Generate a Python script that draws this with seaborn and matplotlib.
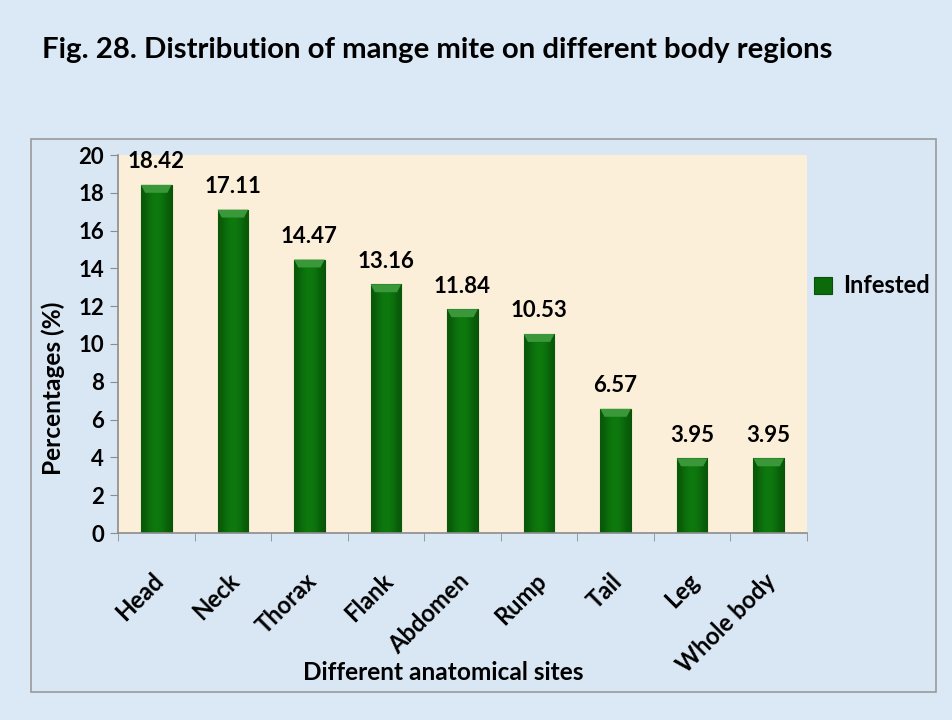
import numpy as np
import pandas as pd
import seaborn as sns
import matplotlib.pyplot as plt
from matplotlib.patches import Rectangle, Polygon
from matplotlib.ticker import MultipleLocator, FixedLocator
from matplotlib.transforms import ScaledTranslation

# values
sites = ["Head", "Neck", "Thorax", "Flank", "Abdomen", "Rump", "Tail", "Leg", "Whole body"]
infested = [18.42, 17.11, 14.47, 13.16, 11.84, 10.53, 6.57, 3.95, 3.95]
value_labels = ["18.42", "17.11", "14.47", "13.16", "11.84", "10.53", "6.57", "3.95", "3.95"]

df = pd.DataFrame({"site": sites, "pct": infested})

sns.set_style("white")
plt.rcParams["font.family"] = ["Lato", "DejaVu Sans"]
plt.rcParams["font.weight"] = "bold"
plt.rcParams["text.color"] = "black"
plt.rcParams["xtick.color"] = "black"
plt.rcParams["ytick.color"] = "black"

fig = plt.figure(figsize=(9.52, 7.2), dpi=100)
fig.patch.set_facecolor("#dbe8f5")

# outer chart frame
fig.patches.append(Rectangle((31 / 952, 1 - 692 / 720), 905 / 952, 553 / 720,
                             transform=fig.transFigure, facecolor="#d9e6f4",
                             edgecolor="#9a9a9a", linewidth=1.2, zorder=-1))

ax = fig.add_axes([118 / 952, 1 - 533 / 720, 689 / 952, 378 / 720])
ax.set_zorder(1)
ax.set_facecolor("#fcefd9")

sns.barplot(data=df, x="site", y="pct", color="#0b6b0b", width=0.4,
            edgecolor="#0a4f0a", linewidth=0.8, saturation=1,
            label="Infested", ax=ax)

# shaded look: horizontal gradient clipped to each bar, plus a lighter top bevel
grad = np.array([[0.0, 0.6, 1.0, 1.0, 0.6, 0.0]])
cmap = sns.blend_palette(["#085808", "#0e7a0e"], as_cmap=True)
for p in list(ax.patches):
    x0, w, h = p.get_x(), p.get_width(), p.get_height()
    im = ax.imshow(grad, extent=(x0, x0 + w, 0, h), cmap=cmap, aspect="auto",
                   interpolation="bicubic", zorder=p.get_zorder() + 0.05)
    im.set_clip_path(p)
    dh, dx = 0.42, 0.055
    ax.add_patch(Polygon([(x0, h), (x0 + w, h), (x0 + w - dx, h - dh), (x0 + dx, h - dh)],
                         closed=True, facecolor="#3a983a", edgecolor="none",
                         zorder=p.get_zorder() + 0.1))

ax.bar_label(ax.containers[0], labels=value_labels, padding=9,
             fontsize=16, fontweight="bold", color="black")

ax.set_ylim(0, 20)
ax.set_xlim(-0.5, len(sites) - 0.5)
ax.yaxis.set_major_locator(MultipleLocator(2))
ax.set_xlabel("")
ax.set_ylabel("")

for s in ["top", "right"]:
    ax.spines[s].set_visible(False)
for s in ["left", "bottom"]:
    ax.spines[s].set_color("#8c8c8c")
    ax.spines[s].set_linewidth(1.2)

ax.tick_params(axis="y", which="major", length=6, color="#8c8c8c",
               labelsize=16, pad=4, direction="out", left=True, labelcolor="black")
ax.tick_params(axis="x", which="major", length=0, labelsize=17, pad=26, labelcolor="black")
ax.xaxis.set_minor_locator(FixedLocator(np.arange(-0.5, len(sites), 1.0)))
ax.tick_params(axis="x", which="minor", length=6, color="#8c8c8c",
               direction="out", bottom=True)
for lbl in ax.get_yticklabels():
    lbl.set_fontweight("bold")
shift = ScaledTranslation(-5 / 100, 0, fig.dpi_scale_trans)
for lbl in ax.get_xticklabels():
    lbl.set_rotation(45)
    lbl.set_ha("right")
    lbl.set_va("top")
    lbl.set_rotation_mode("anchor")
    lbl.set_fontweight("bold")
    lbl.set_fontsize(17)
    lbl.set_transform(lbl.get_transform() + shift)

fig.text(42 / 952, 1 - 58 / 720,
         "Fig. 28. Distribution of mange mite on different body regions",
         fontsize=21.2, fontweight="bold", va="baseline", ha="left")
fig.text(443 / 952, 1 - 680 / 720, "Different anatomical sites",
         fontsize=17.6, fontweight="bold", ha="center", va="baseline")
fig.text(53 / 952, 1 - 388 / 720, "Percentages (%)", rotation=90,
         fontsize=17.6, fontweight="bold", ha="center", va="center")

leg = ax.legend(loc="center left", bbox_to_anchor=(814 / 952, 1 - 286 / 720),
                bbox_transform=fig.transFigure, frameon=False,
                borderpad=0, borderaxespad=0,
                handlelength=0.75, handleheight=0.75, handletextpad=0.5,
                prop={"weight": "bold", "size": 17})

fig.savefig("out.png", dpi=100, facecolor=fig.get_facecolor())
plt.close(fig)
